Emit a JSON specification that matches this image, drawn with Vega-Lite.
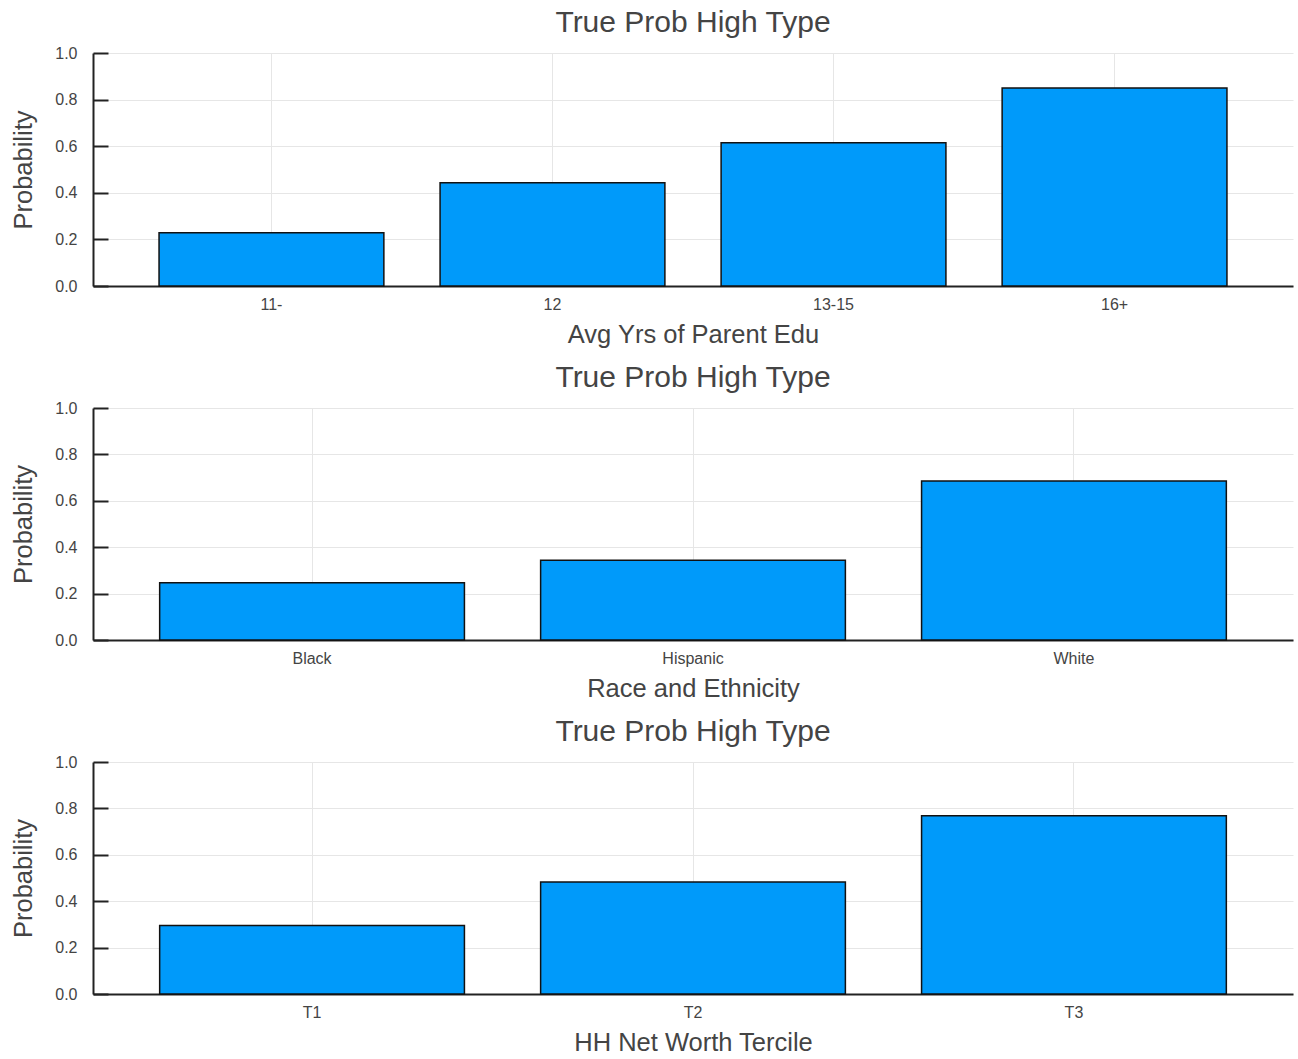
{
  "$schema": "https://vega.github.io/schema/vega-lite/v6.json",
  "background": "white",
  "padding": {"left": 11, "top": 8, "right": 5, "bottom": 0},
  "spacing": 15,
  "datasets": {
    "edu": [
      {"group": "11-", "prob": 0.229},
      {"group": "12", "prob": 0.443},
      {"group": "13-15", "prob": 0.615},
      {"group": "16+", "prob": 0.850}
    ],
    "race": [
      {"group": "Black", "prob": 0.247},
      {"group": "Hispanic", "prob": 0.344},
      {"group": "White", "prob": 0.685}
    ],
    "worth": [
      {"group": "T1", "prob": 0.295},
      {"group": "T2", "prob": 0.483},
      {"group": "T3", "prob": 0.768}
    ]
  },
  "vconcat": [
    {
      "title": "True Prob High Type",
      "width": 1200,
      "height": 233,
      "data": {"name": "edu"},
      "mark": {"type": "bar", "color": "#009AFA", "stroke": "#111", "strokeWidth": 1.5},
      "encoding": {
        "x": {"field": "group", "type": "nominal", "sort": null,
              "scale": {"paddingInner": 0.2, "paddingOuter": 0.235},
              "axis": {"title": "Avg Yrs of Parent Edu", "labelAngle": 0, "ticks": false, "grid": true, "bandPosition": 0.5, "labelPadding": 10, "titlePadding": 10}},
        "y": {"field": "prob", "type": "quantitative",
              "scale": {"domain": [0, 1], "nice": false},
              "axis": {"title": "Probability", "values": [0, 0.2, 0.4, 0.6, 0.8, 1.0], "format": ".1f", "tickSize": -15, "tickWidth": 2, "tickColor": "#222", "labelPadding": 31, "titlePadding": 18}}
      }
    },
    {
      "title": "True Prob High Type",
      "width": 1200,
      "height": 232,
      "data": {"name": "race"},
      "mark": {"type": "bar", "color": "#009AFA", "stroke": "#111", "strokeWidth": 1.5},
      "encoding": {
        "x": {"field": "group", "type": "nominal", "sort": null,
              "scale": {"paddingInner": 0.2, "paddingOuter": 0.175},
              "axis": {"title": "Race and Ethnicity", "labelAngle": 0, "ticks": false, "grid": true, "bandPosition": 0.5, "labelPadding": 10, "titlePadding": 10}},
        "y": {"field": "prob", "type": "quantitative",
              "scale": {"domain": [0, 1], "nice": false},
              "axis": {"title": "Probability", "values": [0, 0.2, 0.4, 0.6, 0.8, 1.0], "format": ".1f", "tickSize": -15, "tickWidth": 2, "tickColor": "#222", "labelPadding": 31, "titlePadding": 18}}
      }
    },
    {
      "title": "True Prob High Type",
      "width": 1200,
      "height": 232,
      "data": {"name": "worth"},
      "mark": {"type": "bar", "color": "#009AFA", "stroke": "#111", "strokeWidth": 1.5},
      "encoding": {
        "x": {"field": "group", "type": "nominal", "sort": null,
              "scale": {"paddingInner": 0.2, "paddingOuter": 0.175},
              "axis": {"title": "HH Net Worth Tercile", "labelAngle": 0, "ticks": false, "grid": true, "bandPosition": 0.5, "labelPadding": 10, "titlePadding": 10}},
        "y": {"field": "prob", "type": "quantitative",
              "scale": {"domain": [0, 1], "nice": false},
              "axis": {"title": "Probability", "values": [0, 0.2, 0.4, 0.6, 0.8, 1.0], "format": ".1f", "tickSize": -15, "tickWidth": 2, "tickColor": "#222", "labelPadding": 31, "titlePadding": 18}}
      }
    }
  ],
  "config": {
    "view": {"stroke": null},
    "axis": {
      "domainColor": "#222",
      "domainWidth": 2,
      "gridColor": "#e6e6e6",
      "gridWidth": 1,
      "labelFont": "Liberation Sans",
      "titleFont": "Liberation Sans",
      "labelColor": "#444",
      "titleColor": "#444",
      "titleFontWeight": "normal",
      "labelFontSize": 16,
      "titleFontSize": 25.5
    },
    "title": {"font": "Liberation Sans", "fontSize": 30, "fontWeight": "normal", "color": "#444", "offset": 7}
  }
}
